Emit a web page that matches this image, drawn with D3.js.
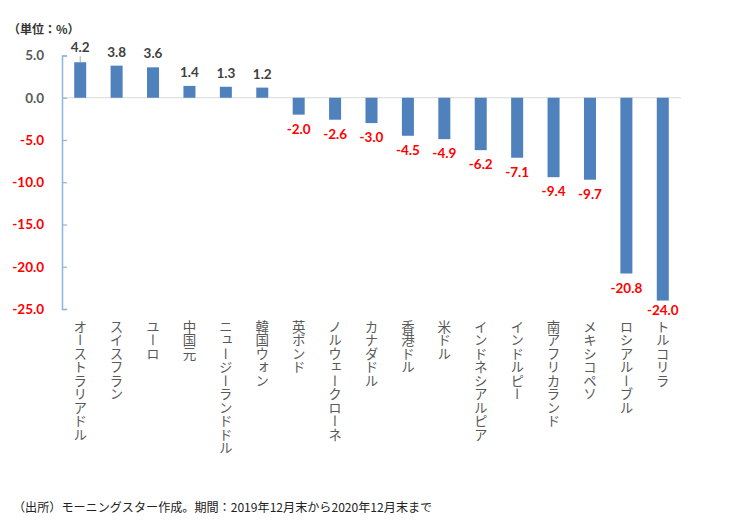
<!DOCTYPE html>
<html><head><meta charset="utf-8">
<script src="https://cdn.jsdelivr.net/npm/d3@7"></script>
<style>
html,body{margin:0;padding:0;background:#fff;}
svg{display:block;}
</style></head>
<body>
<svg id="chart" width="750" height="529"></svg>
<script>
const categories = ["オーストラリアドル","スイスフラン","ユーロ","中国元","ニュージーランドドル","韓国ウォン","英ポンド","ノルウェークローネ","カナダドル","香港ドル","米ドル","インドネシアルピア","インドルピー","南アフリカランド","メキシコペソ","ロシアルーブル","トルコリラ"];
const values = [4.2,3.8,3.6,1.4,1.3,1.2,-2.0,-2.6,-3.0,-4.5,-4.9,-6.2,-7.1,-9.4,-9.7,-20.8,-24.0];
const yTicks = [5,0,-5,-10,-15,-20,-25];
const unitLabel = "（単位：%）";
const sourceNote = "（出所）モーニングスター作成。期間：2019年12月末から2020年12月末まで";

const svg = d3.select("#chart");
const numFont = "Lato, 'Liberation Sans', sans-serif";
const jpFont = "'Noto Sans CJK JP', sans-serif";
const fmt = v => v.toFixed(1);

const x = d3.scaleBand().domain(categories).range([62, 681]).paddingInner(0.67).paddingOuter(0.335);
const y = d3.scaleLinear().domain([-25, 5]).range([309, 55.5]);

// zero line
svg.append("line").attr("x1", 62).attr("x2", 681).attr("y1", y(0)).attr("y2", y(0))
  .attr("stroke", "#d9d9d9").attr("stroke-width", 1);

// y axis
const yAxis = d3.axisRight(y).tickValues(yTicks).tickSize(5).tickFormat("");
const ga = svg.append("g").attr("transform", "translate(62,0)").call(yAxis);
ga.select(".domain").attr("stroke", "#8eb4e3").attr("stroke-width", 1.5);
ga.selectAll(".tick line").attr("stroke", "#8eb4e3").attr("stroke-width", 1.2);

// y tick labels
svg.append("g").selectAll("text").data(yTicks).join("text")
  .attr("x", 44).attr("y", d => y(d)).attr("dy", "0.36em")
  .attr("text-anchor", "end")
  .attr("font-family", numFont).attr("font-weight", "bold").attr("font-size", 13.5)
  .attr("fill", d => d < 0 ? "#ff0000" : "#595959")
  .text(d => fmt(d));

// bars
svg.append("g").selectAll("rect").data(values).join("rect")
  .attr("x", (d, i) => x(categories[i]))
  .attr("width", x.bandwidth())
  .attr("y", d => y(Math.max(0, d)))
  .attr("height", d => Math.abs(y(d) - y(0)))
  .attr("fill", "#4f81bd");

// value labels
const lab = svg.append("g");
values.forEach((d, i) => {
  const cx = x(categories[i]) + x.bandwidth() / 2;
  let ty;
  if (d >= 0) {
    ty = y(d) - 9;
    if (i === 0) {
      ty = y(d) - 10;
      lab.append("line").attr("x1", cx).attr("x2", cx).attr("y1", ty + 4).attr("y2", y(d))
        .attr("stroke", "#a6a6a6").attr("stroke-width", 1);
    }
  } else {
    ty = Math.min(y(d) + 19, 315);
  }
  lab.append("text").attr("x", cx).attr("y", ty).attr("text-anchor", "middle")
    .attr("font-family", numFont).attr("font-weight", "bold").attr("font-size", 13.5)
    .attr("fill", d < 0 ? "#ff0000" : "#404040")
    .text(fmt(d));
});

// category labels (vertical)
svg.append("g").selectAll("text").data(categories).join("text")
  .attr("x", d => x(d) + x.bandwidth() / 2)
  .attr("y", 320)
  .style("writing-mode", "vertical-rl")
  .attr("font-family", jpFont).attr("font-size", 13.5)
  .attr("fill", "#595959")
  .text(d => d);

// unit label
svg.append("text").attr("x", 8).attr("y", 34)
  .attr("font-family", jpFont).attr("font-weight", "bold").attr("font-size", 12)
  .attr("fill", "#333").text(unitLabel);

// source note
svg.append("text").attr("x", 13).attr("y", 512)
  .attr("font-family", jpFont).attr("font-size", 12.1)
  .attr("fill", "#222").text(sourceNote);
</script>
</body></html>
